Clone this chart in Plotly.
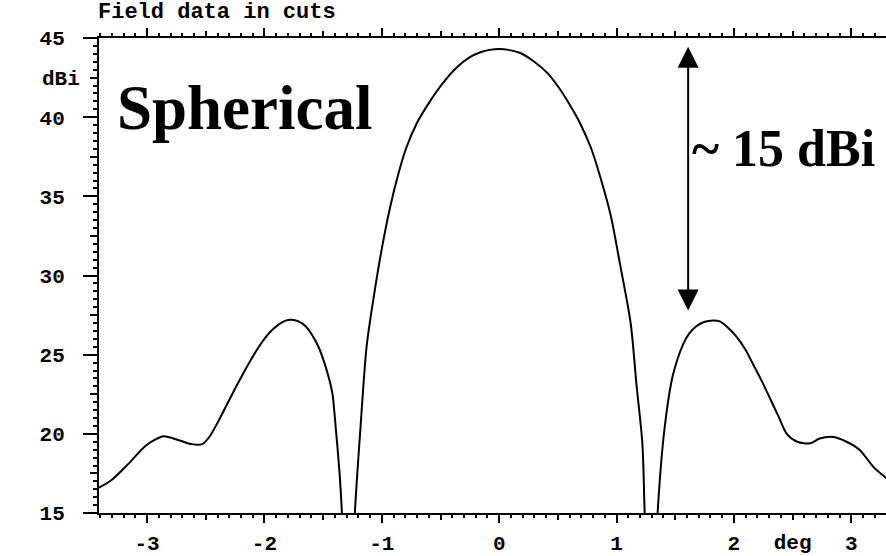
import plotly.graph_objects as go

# Far-field cut: angle (deg) vs. gain (dBi)
angle_deg = [-3.41, -3.30, -3.16, -3.02, -2.94, -2.86, -2.73, -2.62, -2.53, -2.47,
             -2.40, -2.31, -2.24, -2.16, -2.09, -2.02, -1.95, -1.88, -1.82, -1.77,
             -1.71, -1.65, -1.59, -1.54, -1.49, -1.45, -1.42, -1.40, -1.36, -1.34,
             -1.29, -1.23, -1.18, -1.13, -1.07, -1.00, -0.93, -0.86, -0.79, -0.70,
             -0.59, -0.48, -0.36, -0.26, -0.16, -0.08, 0.00, 0.08, 0.18, 0.29,
             0.41, 0.50, 0.60, 0.69, 0.78, 0.87, 0.95, 1.03, 1.12, 1.17,
             1.22, 1.24, 1.30, 1.35, 1.41, 1.48, 1.57, 1.62, 1.68, 1.74,
             1.80, 1.88, 1.95, 2.02, 2.10, 2.17, 2.24, 2.31, 2.38, 2.45,
             2.54, 2.65, 2.73, 2.85, 2.96, 3.07, 3.19, 3.30]
gain_dbi = [16.6, 17.1, 18.1, 19.2, 19.6, 19.85, 19.6, 19.35, 19.35, 19.8,
            20.7, 22.0, 23.0, 24.1, 25.0, 25.8, 26.45, 26.9, 27.15, 27.2,
            27.1, 26.8, 26.2, 25.5, 24.5, 23.5, 22.5, 21.0, 17.5, 15.0,
            5.0, 15.0, 20.6, 25.5, 28.6, 31.7, 34.3, 36.4, 38.1, 39.65,
            41.0, 42.15, 43.15, 43.75, 44.1, 44.25, 44.3, 44.25, 44.05, 43.55,
            42.8, 41.95, 40.8, 39.6, 38.1, 36.0, 33.8, 30.7, 27.0, 23.1,
            19.4, 15.0, 5.0, 15.0, 20.4, 23.7, 25.7, 26.35, 26.8, 27.05,
            27.15, 27.1, 26.7, 26.15, 25.3, 24.3, 23.3, 22.2, 21.1, 20.0,
            19.5, 19.4, 19.7, 19.8, 19.5, 19.0, 17.9, 17.2]

x_major = [-3, -2, -1, 0, 1, 2, 3]
x_major_text = ["-3", "-2", "-1", "0", "1", "2", "3"]
x_half = [-3.0 + 0.5 * k for k in range(-1, 14) if k % 2 == 1]
x_half_text = ["deg" if v == 2.5 else "" for v in x_half]
y_major = [15, 20, 25, 30, 35, 40, 45]
y_half = [17.5, 22.5, 27.5, 32.5, 37.5, 42.5]
y_half_text = ["dBi" if v == 42.5 else "" for v in y_half]

x_range = [-3.41, 3.296]
y_range = [15, 45]

tick_font = dict(family="Liberation Mono", size=21, color="black", weight="bold")

fig = go.Figure()
fig.add_trace(go.Scatter(
    x=angle_deg, y=gain_dbi, mode="lines",
    line=dict(color="black", width=2, shape="spline", smoothing=0.8),
    showlegend=False, hoverinfo="skip"))
# helper trace so the half-step tick axes are rendered
fig.add_trace(go.Scatter(x=[None], y=[None], xaxis="x2", yaxis="y2",
                         showlegend=False, hoverinfo="skip"))

fig.update_layout(
    width=886, height=556,
    margin=dict(l=99, r=0, t=38, b=32),
    paper_bgcolor="white", plot_bgcolor="white",
    xaxis=dict(range=x_range, tickvals=x_major, ticktext=x_major_text,
               ticks="outside", ticklen=8, tickwidth=2, tickcolor="black",
               showline=True, linewidth=2, linecolor="black", mirror="ticks",
               showgrid=False, zeroline=False, tickfont=tick_font,
               ticklabelstandoff=2,
               minor=dict(dtick=0.1, tick0=0, ticks="outside", ticklen=3,
                          tickwidth=1.5, tickcolor="black", showgrid=False)),
    yaxis=dict(range=y_range, tickvals=y_major,
               ticks="outside", ticklen=14, tickwidth=2, tickcolor="black",
               showline=True, linewidth=2, linecolor="black", mirror=False,
               showgrid=False, zeroline=False, tickfont=tick_font,
               ticklabelstandoff=14,
               minor=dict(dtick=0.5, tick0=0, ticks="outside", ticklen=4,
                          tickwidth=1.5, tickcolor="black", showgrid=False)),
    xaxis2=dict(overlaying="x", matches="x", anchor="y", side="bottom",
                tickvals=x_half, ticktext=x_half_text, ticks="outside",
                ticklen=6, tickwidth=2, tickcolor="black", mirror="ticks",
                showline=False, showgrid=False, zeroline=False,
                tickfont=tick_font, ticklabelstandoff=4),
    yaxis2=dict(overlaying="y", matches="y", anchor="x", side="left",
                tickvals=y_half, ticktext=y_half_text, ticks="outside",
                ticklen=8, tickwidth=2, tickcolor="black",
                showline=False, showgrid=False, zeroline=False,
                tickfont=tick_font, ticklabelstandoff=6),
)

# chart heading
fig.add_annotation(text="Field data in cuts", xref="paper", yref="paper",
                   x=0, y=1, xanchor="left", yanchor="bottom", xshift=-3,
                   yshift=11, showarrow=False,
                   font=dict(family="Liberation Mono", size=22, color="black",
                             weight="bold"))

# caption text
fig.add_annotation(text="Spherical", x=-3.27, y=40.6, xref="x", yref="y",
                   xanchor="left", yanchor="middle", showarrow=False,
                   font=dict(family="Liberation Serif", size=63, color="black",
                             weight="bold"))
fig.add_annotation(text="~ 15 dBi", x=1.63, y=38.0, xref="x", yref="y",
                   xanchor="left", yanchor="middle", showarrow=False,
                   font=dict(family="Liberation Serif", size=52, color="black",
                             weight="bold"))

# double-headed arrow spanning the main-lobe to side-lobe difference
fig.add_annotation(text="", x=1.61, y=44.44, ax=1.61, ay=27.7,
                   xref="x", yref="y", axref="x", ayref="y",
                   showarrow=True, arrowhead=2, startarrowhead=2,
                   arrowside="end+start", arrowwidth=2, arrowsize=2.1,
                   startarrowsize=2.1, arrowcolor="black",
                   standoff=0, startstandoff=0)

fig.write_html("out.html")
